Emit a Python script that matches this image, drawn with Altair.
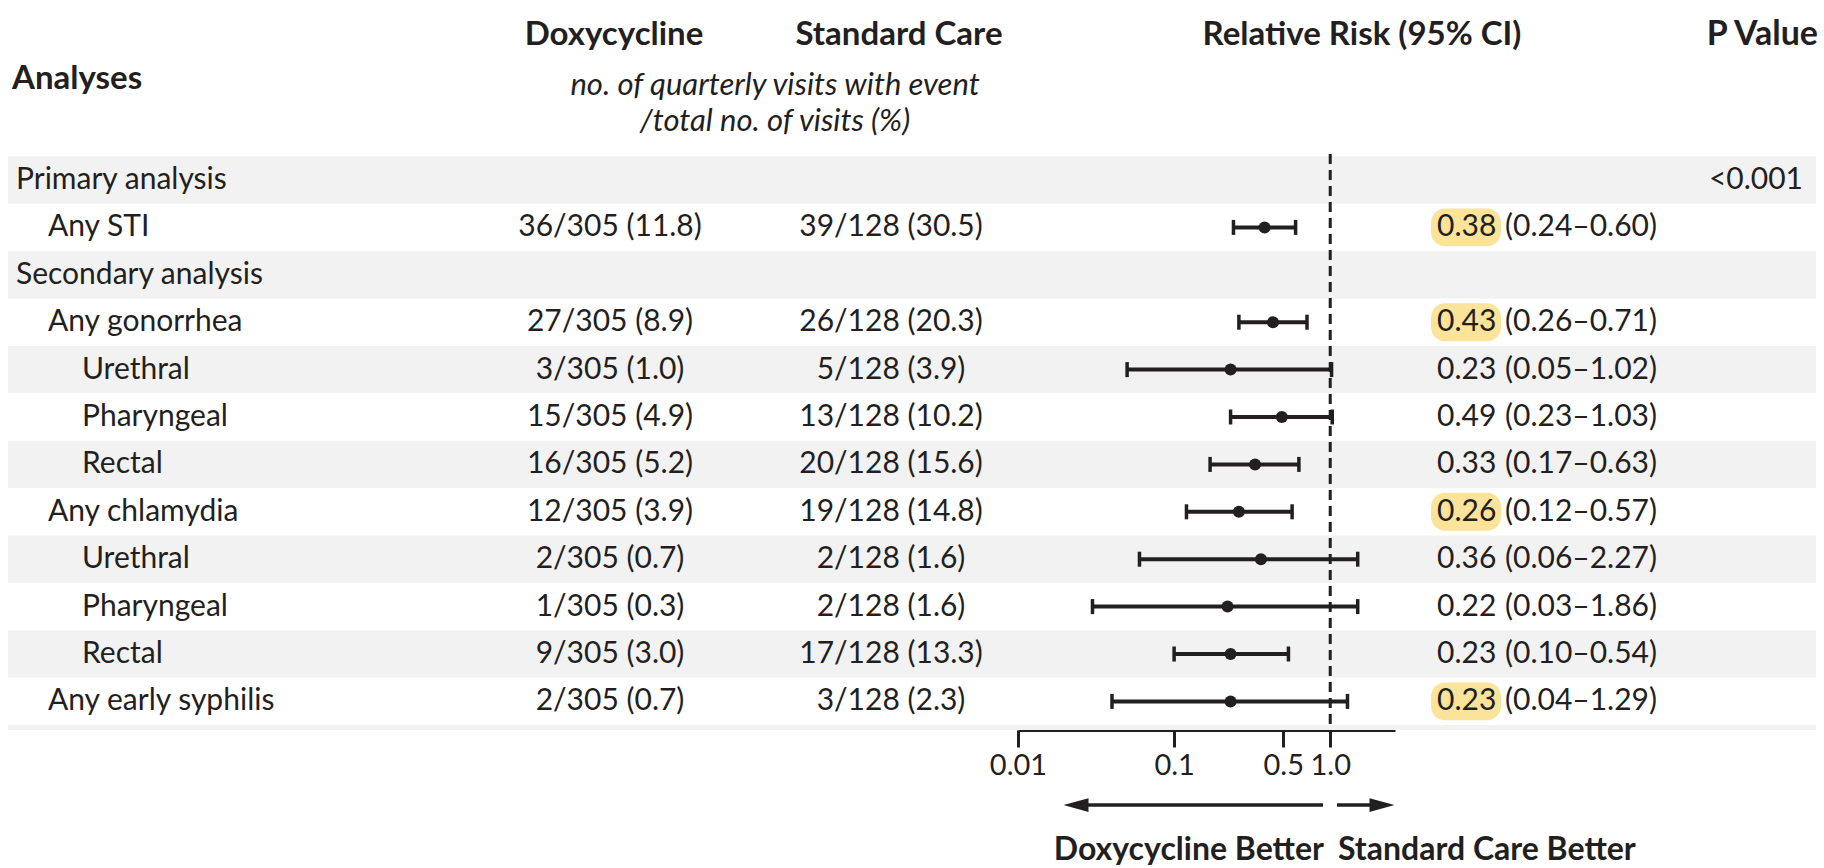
import altair as alt
import pandas as pd

# ---------------- data ----------------
labels = ["Primary analysis", "Any STI", "Secondary analysis", "Any gonorrhea",
          "Urethral", "Pharyngeal", "Rectal", "Any chlamydia",
          "Urethral", "Pharyngeal", "Rectal", "Any early syphilis"]
levels = [0, 1, 0, 1, 2, 2, 2, 1, 2, 2, 2, 1]
doxy = ["", "36/305 (11.8)", "", "27/305 (8.9)", "3/305 (1.0)", "15/305 (4.9)",
        "16/305 (5.2)", "12/305 (3.9)", "2/305 (0.7)", "1/305 (0.3)",
        "9/305 (3.0)", "2/305 (0.7)"]
std = ["", "39/128 (30.5)", "", "26/128 (20.3)", "5/128 (3.9)", "13/128 (10.2)",
       "20/128 (15.6)", "19/128 (14.8)", "2/128 (1.6)", "2/128 (1.6)",
       "17/128 (13.3)", "3/128 (2.3)"]
rr = [None, 0.38, None, 0.43, 0.23, 0.49, 0.33, 0.26, 0.36, 0.22, 0.23, 0.23]
lo = [None, 0.24, None, 0.26, 0.05, 0.23, 0.17, 0.12, 0.06, 0.03, 0.10, 0.04]
hi = [None, 0.60, None, 0.71, 1.02, 1.03, 0.63, 0.57, 2.27, 1.86, 0.54, 1.29]
# upper whisker ends as drawn in the figure (long intervals are cut at ~1.5)
hi_drawn = [None, 0.60, None, 0.71, 1.02, 1.03, 0.63, 0.57, 1.5, 1.5, 0.54, 1.29]
highlight = [False, True, False, True, False, False, False, True, False, False, False, True]
pvals = ["<0.001", "", "", "", "", "", "", "", "", "", "", ""]
tick_values = [0.01, 0.1, 0.5, 1.0]

df = pd.DataFrame({
    "row": list(range(len(labels))),
    "label": labels,
    "level": levels,
    "doxy": doxy,
    "std": std,
    "rr": rr,
    "lo": lo,
    "hi": hi,
    "hi_d": hi_drawn,
    "hl": highlight,
    "p": pvals,
})
df["rr_txt"] = [f"{v:.2f}" if v is not None and v == v else "" for v in df["rr"]]
df["ci_txt"] = [f"({a:.2f}\u2013{b:.2f})" if a == a and b == b else ""
                for a, b in zip(df["lo"], df["hi"])]

# ---------------- styles ----------------
INK = "#231f20"
BODY = "Lato"

yscale = alt.Scale(domain=[0, 11], range=[180, 701.4], nice=False, zero=False)
xscale = alt.Scale(type="log", domain=[0.01, 2.6], range=[1018, 1395], nice=False)
xaxis = alt.Axis(values=tick_values, title=None, offset=-138, grid=False,
                 domainColor=INK, domainWidth=3, tickColor=INK, tickWidth=3,
                 tickSize=17, labelFont=BODY, labelFontSize=29, labelColor=INK,
                 labelPadding=4, labelOverlap=False, labelBound=False,
                 labelFlush=False,
                 labelExpr="datum.value == 1 ? '1.0' : toString(datum.value)")

base = alt.Chart(df)
Y = alt.Y("row:Q", scale=yscale, axis=None)

# grey bands on alternate rows
bands = base.transform_filter("datum.row % 2 == 0").transform_calculate(
    y0="datum.row - 0.5", y1="datum.row + 0.5"
).mark_rect(color="#f2f2f2").encode(
    x=alt.value(8), x2=alt.value(1816),
    y=alt.Y("y0:Q", scale=yscale, axis=None), y2="y1:Q")

bottom_strip = alt.Chart(pd.DataFrame({"a": [0]})).mark_rect(color="#f2f2f2").encode(
    x=alt.value(8), x2=alt.value(1816), y=alt.value(725), y2=alt.value(730))

# highlight behind selected estimates
hl = base.transform_filter("datum.hl").transform_calculate(
    y0="datum.row - 0.4", y1="datum.row + 0.4"
).mark_rect(color="#fbe49a", cornerRadius=14).encode(
    x=alt.value(1431), x2=alt.value(1501),
    y=alt.Y("y0:Q", scale=yscale, axis=None), y2="y1:Q")

# reference dashed line at RR = 1
ref = alt.Chart(pd.DataFrame({"v": [1.0]})).mark_rule(
    color=INK, strokeWidth=3, strokeDash=[10, 6]).encode(
    x=alt.X("v:Q", scale=xscale, axis=xaxis),
    y=alt.value(154), y2=alt.value(730))

valid = "isValid(datum.rr)"
ci = base.transform_filter(valid).mark_rule(
    color=INK, strokeWidth=4).encode(
    x=alt.X("lo:Q", scale=xscale, axis=xaxis), x2="hi_d:Q", y=Y)
cap_lo = base.transform_filter(valid).mark_tick(
    color=INK, orient="vertical", size=15, thickness=3.5, opacity=1).encode(
    x=alt.X("lo:Q", scale=xscale, axis=xaxis), y=Y)
cap_hi = base.transform_filter(valid).mark_tick(
    color=INK, orient="vertical", size=15, thickness=3.5, opacity=1).encode(
    x=alt.X("hi_d:Q", scale=xscale, axis=xaxis), y=Y)
pts = base.transform_filter(valid).mark_circle(
    color=INK, size=145, opacity=1).encode(
    x=alt.X("rr:Q", scale=xscale, axis=xaxis), y=Y)

def body_text(field, x, align, flt=None):
    c = base
    if flt:
        c = c.transform_filter(flt)
    return c.mark_text(font=BODY, fontSize=30, color=INK, align=align,
                       baseline="middle").encode(x=alt.value(x), y=Y, text=f"{field}:N")

lab0 = body_text("label", 16, "left", "datum.level == 0")
lab1 = body_text("label", 48, "left", "datum.level == 1")
lab2 = body_text("label", 82, "left", "datum.level == 2")
col_d = body_text("doxy", 610, "center")
col_s = body_text("std", 891, "center")
col_rr = body_text("rr_txt", 1437, "left")
col_ci = body_text("ci_txt", 1505, "left")
col_p = body_text("p", 1803, "right")

one = pd.DataFrame({"a": [0]})

def free_text(txt, x, y, align, font, size, weight="normal", style="normal"):
    return alt.Chart(one).mark_text(
        text=txt, font=font, fontSize=size, fontWeight=weight, fontStyle=style,
        color=INK, align=align, baseline="middle").encode(x=alt.value(x), y=alt.value(y))

headers = [
    free_text("Analyses", 12, 79, "left", BODY, 33, "bold"),
    free_text("Doxycycline", 614, 35, "center", BODY, 33, "bold"),
    free_text("Standard Care", 899, 35, "center", BODY, 33, "bold"),
    free_text("no. of quarterly visits with event", 775, 86, "center", BODY, 31, "normal", "italic"),
    free_text("/total no. of visits (%)", 775, 122, "center", BODY, 31, "normal", "italic"),
    free_text("Relative Risk (95% CI)", 1362, 35, "center", BODY, 33, "bold"),
    free_text("P Value", 1818, 35, "right", BODY, 34, "bold"),
    free_text("Doxycycline Better", 1324, 850, "right", BODY, 32, "bold"),
    free_text("Standard Care Better", 1338, 850, "left", BODY, 32, "bold"),
]

# direction arrows
arrow_l = alt.Chart(one).mark_rule(color=INK, strokeWidth=3.5).encode(
    x=alt.value(1080), x2=alt.value(1323), y=alt.value(805))
arrow_r = alt.Chart(one).mark_rule(color=INK, strokeWidth=3.5).encode(
    x=alt.value(1337), x2=alt.value(1380), y=alt.value(805))
head_l = alt.Chart(one).mark_point(
    shape="M-1,0L1,-0.55L1,0.55Z", filled=True, color=INK, opacity=1, size=625,
    strokeWidth=0).encode(x=alt.value(1076), y=alt.value(805))
head_r = alt.Chart(one).mark_point(
    shape="M1,0L-1,-0.55L-1,0.55Z", filled=True, color=INK, opacity=1, size=625,
    strokeWidth=0).encode(x=alt.value(1382), y=alt.value(805))

chart = alt.layer(
    bands, bottom_strip, hl, ci, cap_lo, cap_hi, pts, ref,
    lab0, lab1, lab2, col_d, col_s, col_rr, col_ci, col_p,
    *headers, arrow_l, arrow_r, head_l, head_r,
).properties(
    width=1824, height=868,
    autosize=alt.AutoSizeParams(type="none"),
    padding=0, background="white",
).configure_view(stroke=None)

chart.save("out.html", embed_options={"renderer": "svg", "actions": False})
